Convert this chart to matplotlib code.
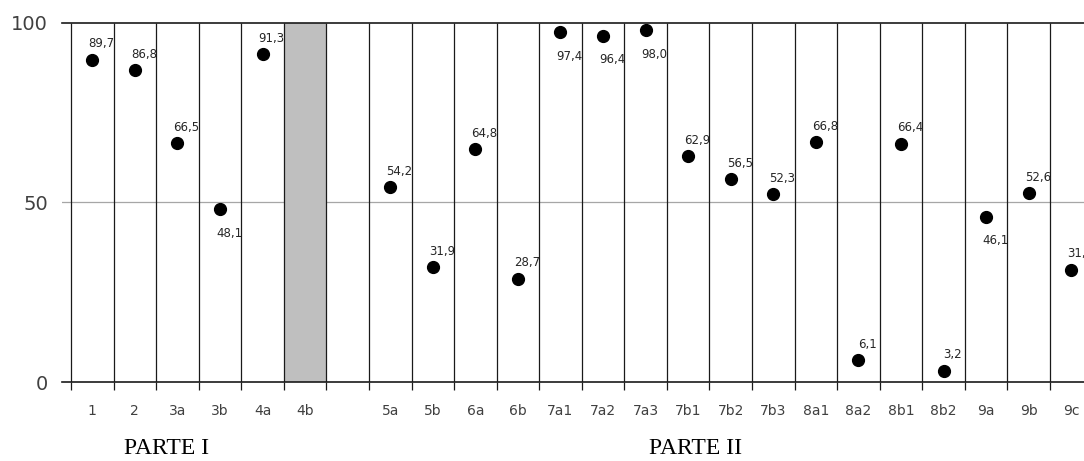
import numpy as np
from matplotlib import pyplot as plt

# slot labels (empty slot between 4b and 5a)
LABELS = ['1', '2', '3a', '3b', '4a', '4b', '', '5a', '5b', '6a', '6b',
          '7a1', '7a2', '7a3', '7b1', '7b2', '7b3', '8a1', '8a2', '8b1',
          '8b2', '9a', '9b', '9c']
VALUES = [89.7, 86.8, 66.5, 48.1, 91.3, None, None, 54.2, 31.9, 64.8, 28.7,
          97.4, 96.4, 98.0, 62.9, 56.5, 52.3, 66.8, 6.1, 66.4,
          3.2, 46.1, 52.6, 31.3]
SHADED = ['4b']
BAR_TOP = 100
GROUPS = ['PARTE I', 'PARTE II']

BELOW = ('3b', '7a1', '7a2', '7a3', '9a')  # labels drawn under the marker

W, H = 1084, 461
fig = plt.figure(figsize=(W / 100., H / 100.), dpi=100)
ax = fig.add_axes([62. / W, (H - 382.) / H, 1.0 - 62. / W, (382. - 23.) / H])

n = len(LABELS)
x = np.arange(n)
slot = 42.565

# grey column for 4b
for lab in SHADED:
    i = LABELS.index(lab)
    ax.bar(x[i], BAR_TOP, width=1.0, color='#BFBFBF', zorder=1)

ax.axhline(50, color='#A6A6A6', lw=0.9, zorder=0)
bounds = np.arange(n + 1) - 0.5
ax.vlines(bounds, 0, 100, colors='#1a1a1a', lw=0.9, zorder=2)

for xi, lab, v in zip(x, LABELS, VALUES):
    if v is None:
        continue
    ax.plot(xi, v, 'o', color='black', ms=8.5, zorder=3)
    txt = '{0:.1f}'.format(v).replace('.', ',')
    dy = -24 if lab in BELOW else 16
    ax.annotate(txt, (xi, v), xytext=(9, dy), textcoords='offset pixels',
                ha='center', va='center', fontsize=8.5, color='#262626',
                zorder=4)

for side in ('left', 'right'):
    ax.spines[side].set_visible(False)
for side in ('top', 'bottom'):
    ax.spines[side].set_color('#1a1a1a')
    ax.spines[side].set_linewidth(1.2)

ax.set_yticks([0, 50, 100])
ax.set_yticklabels(['0', '50', '100'], fontsize=14, color='#404040')
ax.tick_params(axis='y', length=0, pad=10)

ax.set_xticks(bounds)
ax.set_xticklabels([])
ax.tick_params(axis='x', which='major', length=6, width=0.9, color='#1a1a1a')
ax.set_xticks(x, minor=True)
ax.set_xticklabels(LABELS, minor=True, fontsize=10, color='#404040')
ax.tick_params(axis='x', which='minor', length=0, pad=16)

# limits last: set_xticks would widen them otherwise
ax.set_xlim(-0.5 - 9. / slot, -0.5 + (W - 71.) / slot)
ax.set_ylim(0, 100)

fig.text(167. / W, 1 - 448. / H, GROUPS[0], family='Liberation Serif',
         fontsize=17, ha='center', va='center')
fig.text(696. / W, 1 - 448. / H, GROUPS[1], family='Liberation Serif',
         fontsize=17, ha='center', va='center')

fig.savefig('out.png', dpi=100)
